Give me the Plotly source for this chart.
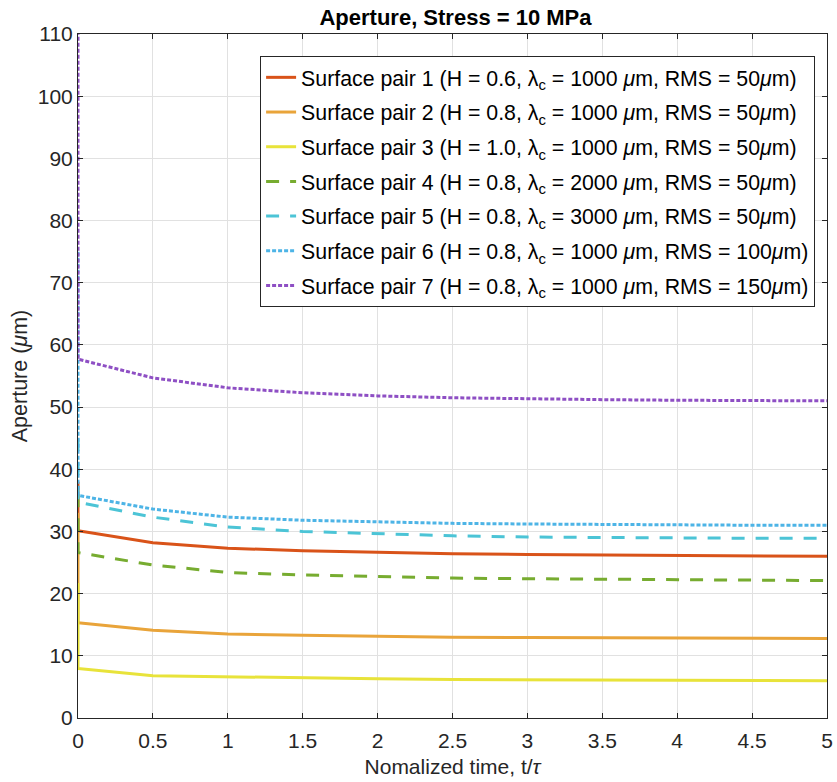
import plotly.graph_objects as go

# Normalized time samples; t = 0 appears twice: initial aperture, then after loading
t = [0, 0, 0.5, 1, 1.5, 2, 2.5, 3, 3.5, 4, 4.5, 5]

pair1 = [38.0, 30.1, 28.2, 27.3, 26.9, 26.6, 26.4, 26.3, 26.2, 26.1, 26.05, 26.0]
pair2 = [33.0, 15.3, 14.1, 13.5, 13.3, 13.1, 13.0, 12.95, 12.9, 12.85, 12.8, 12.8]
pair3 = [21.7, 7.95, 6.8, 6.6, 6.4, 6.3, 6.2, 6.15, 6.1, 6.05, 6.0, 6.0]
pair4 = [36.0, 26.6, 24.6, 23.4, 23.0, 22.7, 22.5, 22.4, 22.3, 22.2, 22.15, 22.1]
pair5 = [45.0, 34.7, 32.3, 30.7, 30.0, 29.6, 29.3, 29.1, 29.0, 28.95, 28.9, 28.9]
pair6 = [75.0, 35.8, 33.6, 32.3, 31.8, 31.5, 31.3, 31.2, 31.1, 31.05, 31.0, 31.0]
pair7 = [125.0, 57.7, 54.7, 53.1, 52.3, 51.8, 51.5, 51.3, 51.2, 51.1, 51.0, 51.0]

labels = [
    "Surface pair 1 (H = 0.6, λ<sub>c</sub> = 1000 <i>μ</i>m, RMS = 50<i>μ</i>m)",
    "Surface pair 2 (H = 0.8, λ<sub>c</sub> = 1000 <i>μ</i>m, RMS = 50<i>μ</i>m)",
    "Surface pair 3 (H = 1.0, λ<sub>c</sub> = 1000 <i>μ</i>m, RMS = 50<i>μ</i>m)",
    "Surface pair 4 (H = 0.8, λ<sub>c</sub> = 2000 <i>μ</i>m, RMS = 50<i>μ</i>m)",
    "Surface pair 5 (H = 0.8, λ<sub>c</sub> = 3000 <i>μ</i>m, RMS = 50<i>μ</i>m)",
    "Surface pair 6 (H = 0.8, λ<sub>c</sub> = 1000 <i>μ</i>m, RMS = 100<i>μ</i>m)",
    "Surface pair 7 (H = 0.8, λ<sub>c</sub> = 1000 <i>μ</i>m, RMS = 150<i>μ</i>m)",
]
series = [pair1, pair2, pair3, pair4, pair5, pair6, pair7]
colors = ["#D95319", "#E9A43A", "#E8E33A", "#77AC30", "#4CC4D6", "#4DB4E6", "#8E4FC4"]
dashes = ["solid", "solid", "solid", "13px,11px", "13px,11px", "4px,2px", "4px,2px"]
widths = [3, 3, 3, 3, 3, 3, 3]

x_ticks = [0, 0.5, 1, 1.5, 2, 2.5, 3, 3.5, 4, 4.5, 5]
y_ticks = list(range(0, 111, 10))

font = "Liberation Sans, Arial, sans-serif"

fig = go.Figure()
for i, (y, name, c, d, w) in enumerate(zip(series, labels, colors, dashes, widths)):
    fig.add_trace(go.Scatter(
        x=t, y=y, mode="lines", name=name, legendgroup=f"g{i}",
        line=dict(color=c, dash=d, width=w),
    ))

axis_common = dict(
    showgrid=True, gridcolor="#E1E1E1", gridwidth=1,
    showline=True, linecolor="#262626", linewidth=1, mirror="allticks",
    ticks="inside", ticklen=5, tickcolor="#262626",
    tickfont=dict(family=font, size=21, color="#262626"),
    ticklabeloverflow="allow",
    zeroline=False,
)

fig.update_layout(
    width=837, height=782,
    margin=dict(l=78, r=4, t=34, b=64),
    paper_bgcolor="white", plot_bgcolor="white",
    title=dict(text="<b>Aperture, Stress = 10 MPa</b>", x=(78 + 833) / 2 / 837, xanchor="center",
               y=1 - 17 / 782, yanchor="middle",
               font=dict(family=font, size=22, color="#000000")),
    xaxis=dict(range=[0, 5], tickvals=x_ticks, ticktext=[f"{v:g}" for v in x_ticks],
               ticklabelstandoff=4,
               title=dict(text="Nomalized time, t/<i>τ</i>", standoff=8,
                          font=dict(family=font, size=21, color="#262626")),
               **axis_common),
    yaxis=dict(range=[0, 110], tickvals=y_ticks,
               title=dict(text="Aperture (<i>μ</i>m)", standoff=4,
                          font=dict(family=font, size=21.5, color="#262626")),
               **axis_common),
    legend=dict(
        x=(821 - 78) / 755, y=(718 - 56) / 684, xanchor="right", yanchor="top",
        bgcolor="white", bordercolor="#262626", borderwidth=1,
        font=dict(family=font, size=21.3, color="#000000"),
        tracegroupgap=4,
    ),
    showlegend=True,
)

fig.write_html("out.html")
